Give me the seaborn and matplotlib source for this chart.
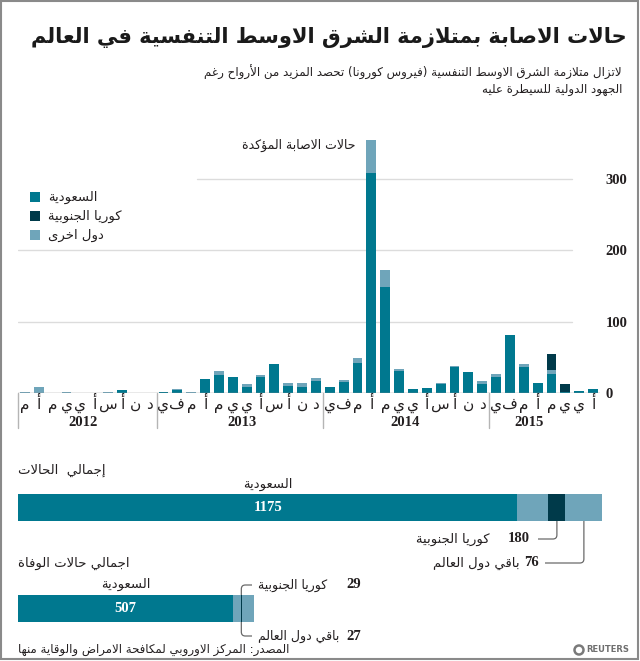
import numpy as np
import pandas as pd
import matplotlib
matplotlib.use('Agg')
import matplotlib.pyplot as plt
import matplotlib.transforms as mtransforms
from matplotlib.patches import Rectangle, Circle, PathPatch
from matplotlib.path import Path
import seaborn as sns

# ---------------- data ----------------
years = ['2012', '2013', '2014', '2015']
months_2012 = ['م', 'أ', 'م', 'ي', 'ي', 'أ', 'س', 'أ', 'ن', 'د']
months_full = ['ي', 'ف', 'م', 'أ', 'م', 'ي', 'ي', 'أ', 'س', 'أ', 'ن', 'د']
months_2015 = ['ي', 'ف', 'م', 'أ', 'م', 'ي', 'ي', 'أ']
month_letters = months_2012 + months_full + months_full + months_2015

saudi = [0, 0, 0, 0, 0, 0, 0, 4, 0, 0,
         2, 4, 0, 19, 25, 23, 8, 22, 40, 10, 8, 17,
         8, 15, 42, 308, 148, 31, 5, 6.5, 12, 36, 29, 13,
         22, 82, 37, 14, 26, 1.5, 2.5, 5]
others = [1, 8, 0, 1, 0, 0, 1, 0, 0, 0,
          0, 2, 1, 0, 6, 0, 5, 3, 0, 4, 6.5, 4.5,
          0, 3.5, 7, 47, 25, 3, 0, 0, 2.5, 1.5, 0, 3.3,
          4, 0, 3.5, 0, 5.6, 0, 0, 0]
korea = [0] * 38 + [23.4, 10.7, 0, 0]

series_names = ['السعودية', 'كوريا الجنوبية', 'دول اخرى']
y_ticks = [0, 100, 200, 300]

summary_names = ['السعودية', 'كوريا الجنوبية', 'باقي دول العالم']
cases_values = [1175, 180, 76]
deaths_values = [507, 29, 27]
# widths of the stacked summary segments as drawn (teal, light, dark, light)
cases_segments = [1175, 73, 40, 87]
deaths_segments = [507, 17, 3, 28]

title = 'حالات الاصابة بمتلازمة الشرق الاوسط التنفسية في العالم'
subtitle1 = 'لاتزال متلازمة الشرق الاوسط التنفسية (فيروس كورونا) تحصد المزيد من الأرواح رغم'
subtitle2 = 'الجهود الدولية للسيطرة عليه'
annot = 'حالات الاصابة المؤكدة'
cases_title = 'إجمالي  الحالات'
deaths_title = 'اجمالي حالات الوفاة'
source = 'المصدر: المركز الاوروبي لمكافحة الامراض والوقاية منها'

# ---------------- Arabic shaping ----------------
DUAL = {'\u0626': 0xFE89, '\u0628': 0xFE8F, '\u062A': 0xFE95, '\u062B': 0xFE99,
        '\u062C': 0xFE9D, '\u062D': 0xFEA1, '\u062E': 0xFEA5, '\u0633': 0xFEB1,
        '\u0634': 0xFEB5, '\u0635': 0xFEB9, '\u0636': 0xFEBD, '\u0637': 0xFEC1,
        '\u0638': 0xFEC5, '\u0639': 0xFEC9, '\u063A': 0xFECD, '\u0641': 0xFED1,
        '\u0642': 0xFED5, '\u0643': 0xFED9, '\u0644': 0xFEDD, '\u0645': 0xFEE1,
        '\u0646': 0xFEE5, '\u0647': 0xFEE9, '\u064A': 0xFEF1}
RIGHT = {'\u0622': 0xFE81, '\u0623': 0xFE83, '\u0624': 0xFE85, '\u0625': 0xFE87,
         '\u0627': 0xFE8D, '\u0629': 0xFE93, '\u062F': 0xFEA9, '\u0630': 0xFEAB,
         '\u0631': 0xFEAD, '\u0632': 0xFEAF, '\u0648': 0xFEED, '\u0649': 0xFEEF}
LAMALEF = {'\u0622': 0xFEF5, '\u0623': 0xFEF7, '\u0625': 0xFEF9, '\u0627': 0xFEFB}
MIRROR = {'(': ')', ')': '(', '[': ']', ']': '['}


def shape(s):
    toks = []
    i = 0
    while i < len(s):
        c = s[i]
        if c == '\u0644' and i + 1 < len(s) and s[i + 1] in LAMALEF:
            toks.append(('LA', s[i + 1]))
            i += 2
        else:
            toks.append(('C', c))
            i += 1

    def jt(t):
        k, c = t
        if k == 'LA':
            return 'R'
        if c in DUAL or c == '\u0640':
            return 'D'
        if c in RIGHT:
            return 'R'
        return 'U'

    out = []
    n = len(toks)
    for k, t in enumerate(toks):
        j = jt(t)
        pj = jt(toks[k - 1]) if k > 0 else 'U'
        nj = jt(toks[k + 1]) if k < n - 1 else 'U'
        jp = j in 'DR' and pj == 'D'
        jn = j == 'D' and nj in 'DR'
        kind, c = t
        if kind == 'LA':
            out.append(chr(LAMALEF[c] + (1 if jp else 0)))
        elif c in DUAL:
            b = DUAL[c]
            out.append(chr(b + 3) if (jp and jn) else chr(b + 1) if jp else chr(b + 2) if jn else chr(b))
        elif c in RIGHT:
            b = RIGHT[c]
            out.append(chr(b + 1) if jp else chr(b))
        else:
            out.append(c)
    vis = ''.join(out)[::-1]
    return ''.join(MIRROR.get(ch, ch) for ch in vis)


# ---------------- style ----------------
TEAL = '#00788f'
LIGHT = '#6fa5ba'
DARK = '#003a4a'
TEXT = '#231f20'
GRID = '#dcdcdc'
LINEC = '#6a6a6a'

sns.set_theme(style='white')
plt.rcParams['font.family'] = ['DejaVu Sans']

W, H = 640, 661
fig = plt.figure(figsize=(W / 100, H / 100), dpi=100)
fig.patch.set_facecolor('white')


def fx(px):
    return px / W


def fy(py):
    return 1 - py / H


# ---------------- monthly stacked bars ----------------
PPU = 71.33 / 100.0
ax = fig.add_axes([fx(18), fy(393), 582 / W, (393 - 130) / H])
n = len(saudi)
df = pd.DataFrame({'m': np.arange(n), 'saudi': saudi, 'others': others, 'korea': korea})
df['lvl2'] = df['saudi'] + df['others']
df['lvl3'] = df['lvl2'] + df['korea']
for col, c in [('lvl3', DARK), ('lvl2', LIGHT), ('saudi', TEAL)]:
    sns.barplot(data=df, x='m', y=col, color=c, saturation=1, width=0.72,
                errorbar=None, ax=ax, linewidth=0, zorder=2)
ax.set_xlim(-0.5, n - 0.5)
ax.set_ylim(0, 263 / PPU)
for s in ax.spines.values():
    s.set_visible(False)
ax.set_facecolor('none')
ax.set_xlabel('')
ax.set_ylabel('')
ax.set_xticks([])
ax.yaxis.tick_right()
ax.set_yticks(y_ticks)
ax.set_yticklabels([str(v) for v in y_ticks], fontfamily='Liberation Serif',
                   fontweight='bold', fontsize=10.5, color=TEXT)
ax.tick_params(axis='y', length=0, pad=4)
ax.grid(False)
gx_end = (572 - 18) / 582
ax.axhline(100, xmin=0, xmax=gx_end, color=GRID, lw=1, zorder=0.5)
ax.axhline(200, xmin=0, xmax=gx_end, color=GRID, lw=1, zorder=0.5)
ax.axhline(300, xmin=(197 - 18) / 582, xmax=gx_end, color=GRID, lw=1, zorder=0.5)
ax.axhline(0, color='#8f8f8f', lw=1, zorder=3)

tr = mtransforms.blended_transform_factory(ax.transData, fig.transFigure)
for i, m in enumerate(month_letters):
    ax.text(i, fy(409), shape(m), transform=tr, ha='center', va='baseline',
            fontsize=11, color=TEXT)
year_bounds = [-0.5, 9.5, 21.5, 33.5]
for b in year_bounds:
    ax.plot([b, b], [fy(393), fy(428)], transform=tr, color='#b5b5b5', lw=1, clip_on=False)
year_label_pos = [4.2, 15.7, 27.4, 36.4]
for yv, xp in zip(years, year_label_pos):
    ax.text(xp, fy(422), yv, transform=tr, ha='center', va='center',
            fontfamily='Liberation Serif', fontweight='bold', fontsize=10.5, color=TEXT)

# ---------------- summary stacked bars ----------------
axb = fig.add_axes([fx(18), fy(659), 600 / W, 202 / H])
XMAX = 600 / 0.425
rows = ['cases', 'deaths']
seg = np.array([cases_segments, deaths_segments], dtype=float)
cum = np.cumsum(seg, axis=1)
seg_colors = [TEAL, LIGHT, DARK, LIGHT]
for k in range(3, -1, -1):
    sns.barplot(x=cum[:, k], y=rows, orient='h', color=seg_colors[k], saturation=1,
                width=27 / 101, errorbar=None, ax=axb, linewidth=0)
axb.set_xlim(0, XMAX)
axb.set_ylim(1.5, -0.5)
axb.axis('off')
axb.text(cases_segments[0] / 2, 0, str(cases_values[0]), ha='center', va='center',
         color='white', fontfamily='Liberation Serif', fontweight='bold', fontsize=10.5)
axb.text(deaths_segments[0] / 2, 1, str(deaths_values[0]), ha='center', va='center',
         color='white', fontfamily='Liberation Serif', fontweight='bold', fontsize=10.5)


def bx(v):
    return 18 + v * 600 / XMAX


# ---------------- overlay (pixel coordinates) ----------------
ov = fig.add_axes([0, 0, 1, 1])
ov.set_xlim(0, W)
ov.set_ylim(H, 0)
ov.axis('off')
ov.patch.set_alpha(0)

ov.add_patch(Rectangle((1, 1), W - 3, H - 3, fill=False, edgecolor='#8a8a8a', lw=1.5))

renderer = fig.canvas.get_renderer()


def fit(t, width):
    bb = t.get_window_extent(renderer=renderer)
    t.set_fontsize(t.get_fontsize() * width / bb.width)


t = ov.text(627, 37, shape(title), ha='right', va='center', fontsize=20,
            fontweight='bold', color='#1a1a1a')
fit(t, 599)
t = ov.text(622, 72, shape(subtitle1), ha='right', va='center', fontsize=9, color=TEXT)
fit(t, 419)
ov.text(622, 90, shape(subtitle2), ha='right', va='center', fontsize=t.get_fontsize(), color=TEXT)

ov.text(355, 145, shape(annot), ha='right', va='center', fontsize=9, color=TEXT)

leg_colors = [TEAL, DARK, LIGHT]
for i, (name, c) in enumerate(zip(series_names, leg_colors)):
    y0 = 192 + i * 19
    ov.add_patch(Rectangle((30, y0), 10, 10, facecolor=c, edgecolor='none'))
    ov.text(48, y0 + 5, shape(name), ha='left', va='center', fontsize=9.5, color=TEXT)

# summary texts
ov.text(18, 470, shape(cases_title), ha='left', va='center', fontsize=9.5, color=TEXT)
ov.text(bx(cases_segments[0] / 2), 484, shape(summary_names[0]), ha='center', va='center',
        fontsize=9.5, color=TEXT)
ov.text(18, 563, shape(deaths_title), ha='left', va='center', fontsize=9.5, color=TEXT)
ov.text(bx(deaths_segments[0] / 2), 584, shape(summary_names[0]), ha='center', va='center',
        fontsize=9.5, color=TEXT)


def elbow(x0, y0, y1, x1, r=4):
    sy = np.sign(y1 - y0)
    sx = np.sign(x1 - x0)
    verts = [(x0, y0), (x0, y1 - sy * r), (x0, y1), (x0 + sx * r, y1), (x1, y1)]
    codes = [Path.MOVETO, Path.LINETO, Path.CURVE3, Path.CURVE3, Path.LINETO]
    ov.add_patch(PathPatch(Path(verts, codes), fill=False, edgecolor=LINEC, lw=0.9))


ccum = np.cumsum(cases_segments)
dcum = np.cumsum(deaths_segments)
# cases callouts
kx = bx(ccum[1] + cases_segments[2] / 2)
elbow(kx, 521, 539, 538)
ox = bx(ccum[2] + cases_segments[3] / 2)
elbow(ox, 521, 563, 545)
numkw = dict(fontfamily='Liberation Serif', fontweight='bold', fontsize=10.5, color=TEXT)
ov.text(530, 539, str(cases_values[1]), ha='right', va='center', **numkw)
ov.text(490, 539, shape(summary_names[1]), ha='right', va='center', fontsize=9.5, color=TEXT)
ov.text(539, 563, str(cases_values[2]), ha='right', va='center', **numkw)
ov.text(520, 563, shape(summary_names[2]), ha='right', va='center', fontsize=9.5, color=TEXT)
# deaths callouts
dkx = bx(dcum[1] + deaths_segments[2] / 2)
elbow(dkx, 595, 585, 252)
elbow(dkx, 622, 636, 252)
ov.text(258, 585, shape(summary_names[1]), ha='left', va='center', fontsize=9, color=TEXT)
ov.text(346, 585, str(deaths_values[1]), ha='left', va='center', **numkw)
ov.text(258, 636, shape(summary_names[2]), ha='left', va='center', fontsize=9, color=TEXT)
ov.text(346, 636, str(deaths_values[2]), ha='left', va='center', **numkw)

# source and logo
ov.text(18, 650, shape(source), ha='left', va='center', fontsize=8.5, color=TEXT)
ov.add_patch(Circle((579, 650), 4.5, facecolor='none', edgecolor='#7a7a7a', lw=1.8))
ov.text(586, 650, 'REUTERS', ha='left', va='center', fontsize=6, fontweight='bold', color='#6f6f6f')

fig.savefig('out.png', dpi=100)
